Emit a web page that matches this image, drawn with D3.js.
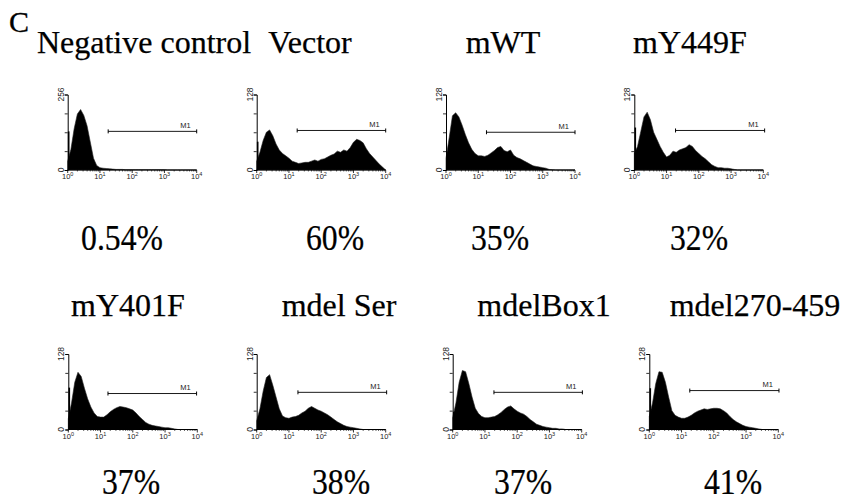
<!DOCTYPE html>
<html>
<head>
<meta charset="utf-8">
<script src="https://cdn.jsdelivr.net/npm/d3@7"></script>
<style>
  body { margin: 0; background: #fff; }
  svg { display: block; }
</style>
</head>
<body>
<svg id="fig" width="843" height="502"></svg>
<script>
// panel names and the % of cells inside gate M1
var titles = ["Negative control", "Vector", "mWT", "mY449F",
              "mY401F", "mdel Ser", "mdelBox1", "mdel270-459"];
var percents = ["0.54%", "60%", "35%", "32%", "37%", "38%", "37%", "41%"];

// full scale of the count axis
var yMax = [256, 128, 128, 128, 128, 128, 128, 128];

// first-channel pile-up (counts)
var spikes = [131, 48, 0, 72, 71, 0, 30, 70];

// gate M1: start / end (fluorescence) and drawn height (counts)
var m1Lo = [18, 18, 18, 19, 17, 19, 19, 18];
var m1Hi = [10000, 10000, 10000, 11000, 9500, 10700, 10500, 10500];
var m1Level = [131, 67, 64, 67, 61, 63, 63, 66];

// histogram counts, one value every 0.1 decade from 10^0 to 10^4
var counts = [
  [30, 70, 140, 190, 205, 185, 150, 95, 40, 15, 8, 6, 5, 4, 3, 2, 2, 2, 1, 1, 1,
   1, 1, 1, 1, 1, 1, 1, 1, 1, 1, 0, 0, 0, 0, 0, 0, 0, 0, 0, 0],
  [15, 30, 50, 64, 68, 58, 44, 34, 28, 24, 20, 15, 13, 11, 12, 13, 13, 15, 17, 15, 18,
   19, 22, 25, 27, 32, 30, 34, 32, 38, 47, 52, 50, 46, 36, 28, 22, 16, 10, 5, 0],
  [20, 55, 92, 97, 90, 76, 60, 46, 35, 28, 24, 24, 23, 25, 29, 33, 38, 40, 33, 31, 34,
   25, 21, 19, 16, 13, 10, 7, 6, 5, 4, 3, 1, 0.5, 0, 0, 0, 0, 0, 0, 0],
  [28, 40, 65, 90, 98, 85, 64, 52, 40, 30, 22, 25, 32, 30, 34, 36, 38, 43, 40, 33, 28,
   23, 19, 14, 9, 6, 4, 4, 3, 3, 2, 1, 0, 0, 0, 0, 0, 0, 0, 0, 0],
  [18, 45, 80, 97, 90, 70, 52, 38, 28, 22, 21, 21, 25, 30, 34, 37, 39, 38, 37, 35, 33,
   28, 22, 17, 12, 9, 7, 6, 5, 4, 3, 3, 2, 1, 0, 0, 0, 0, 0, 0, 0],
  [15, 35, 65, 88, 93, 75, 55, 35, 23, 20, 19, 21, 22, 24, 28, 31, 36, 39, 36, 33, 31,
   28, 25, 21, 17, 13, 10, 7, 5, 4, 3, 2, 1, 0, 0, 0, 0, 0, 0, 0, 0],
  [20, 45, 80, 100, 98, 78, 55, 36, 27, 22, 20, 20, 21, 22, 25, 29, 34, 38, 40, 35, 31,
   28, 26, 22, 17, 13, 9, 7, 5, 4, 3, 2, 2, 1, 1, 0, 0, 0, 0, 0, 0],
  [22, 45, 78, 98, 97, 80, 55, 32, 24, 21, 19, 19, 21, 24, 28, 31, 33, 35, 34, 35, 36,
   36, 35, 32, 28, 22, 17, 13, 10, 7, 5, 4, 3, 2, 1, 0, 0, 0, 0, 0, 0]
];

// page layout: where each panel sits
var plotW = 129, plotH = 75.5;
var panels = [
  { x: 67.7, base: 170, tx: 144, ty: 53, px: 122, py: 250 },
  { x: 256.7, base: 170, tx: 310, ty: 53, px: 335, py: 250 },
  { x: 446, base: 170, tx: 503, ty: 53, px: 500, py: 250 },
  { x: 634.3, base: 170, tx: 690, ty: 53, px: 699, py: 250 },
  { x: 68.3, base: 429.5, tx: 128, ty: 316, px: 131, py: 494 },
  { x: 256.7, base: 429.5, tx: 339, ty: 316, px: 341, py: 494 },
  { x: 452.7, base: 429.5, tx: 544, ty: 316, px: 523, py: 494 },
  { x: 649.3, base: 429.5, tx: 755, ty: 316, px: 733, py: 494 }
];

var svg = d3.select("#fig");
var serif = "'Liberation Serif', 'Times New Roman', serif";
var sans = "'Liberation Sans', Arial, sans-serif";

// panel letter
svg.append("text")
  .attr("x", 9).attr("y", 32)
  .attr("font-family", serif).attr("font-size", 30)
  .attr("stroke", "#000").attr("stroke-width", 0.3)
  .text("C");

panels.forEach(function(p, i) {
  var g = svg.append("g");

  var x = d3.scaleLog().domain([1, 10000]).range([p.x, p.x + plotW]);
  var y = d3.scaleLinear().domain([0, yMax[i]]).range([p.base, p.base - plotH]);

  var pts = counts[i].map(function(c, k) { return { v: Math.pow(10, k / 10), c: c }; });

  // filled histogram
  var area = d3.area()
    .x(function(d) { return x(d.v); })
    .y0(y(0))
    .y1(function(d) { return y(d.c); });
  g.append("path")
    .datum(pts)
    .attr("d", area)
    .attr("fill", "#000")
    .attr("stroke", "#222")
    .attr("stroke-width", 0.6);

  // first-channel spike
  if (spikes[i] > 0) {
    g.append("line")
      .attr("x1", x(1) + 1).attr("x2", x(1) + 1)
      .attr("y1", y(0)).attr("y2", y(spikes[i]))
      .attr("stroke", "#000").attr("stroke-width", 1.6);
  }

  // count axis
  var yAxis = d3.axisLeft(y)
    .tickValues([0, yMax[i] / 4, yMax[i] / 2, yMax[i] * 3 / 4, yMax[i]])
    .tickSize(3)
    .tickFormat("");
  var ya = g.append("g").attr("transform", "translate(" + p.x + ",0)").call(yAxis);
  ya.select(".domain").attr("stroke-width", 1);
  ya.selectAll("line").attr("stroke-width", 0.8);

  [0, yMax[i]].forEach(function(v) {
    g.append("text")
      .attr("transform", "translate(" + (p.x - 4) + "," + y(v) + ") rotate(-90)")
      .attr("text-anchor", "middle")
      .attr("font-family", sans).attr("font-size", 8.5)
      .attr("fill", "#222")
      .text(v);
  });

  // fluorescence axis with log minor ticks
  var minors = [];
  for (var dcd = 0; dcd < 4; dcd++) {
    for (var m = 2; m < 10; m++) minors.push(m * Math.pow(10, dcd));
  }
  g.append("line")
    .attr("x1", x(1)).attr("x2", x(10000))
    .attr("y1", p.base).attr("y2", p.base)
    .attr("stroke", "#000").attr("stroke-width", 1);
  g.selectAll(".minor").data(minors).enter().append("line")
    .attr("x1", function(d) { return x(d); }).attr("x2", function(d) { return x(d); })
    .attr("y1", p.base).attr("y2", p.base + 1.5)
    .attr("stroke", "#000").attr("stroke-width", 0.6);
  var majors = [1, 10, 100, 1000, 10000];
  g.selectAll(".major").data(majors).enter().append("line")
    .attr("x1", function(d) { return x(d); }).attr("x2", function(d) { return x(d); })
    .attr("y1", p.base).attr("y2", p.base + 3)
    .attr("stroke", "#000").attr("stroke-width", 0.8);
  var lab = g.selectAll(".xlab").data(majors).enter().append("text")
    .attr("x", function(d) { return x(d); })
    .attr("y", p.base + 9)
    .attr("text-anchor", "middle")
    .attr("font-family", sans).attr("font-size", 7.5)
    .attr("fill", "#222");
  lab.append("tspan").text("10");
  lab.append("tspan")
    .attr("dy", -2.8).attr("font-size", 5.5)
    .text(function(d) { return Math.round(Math.log10(d)); });

  // gate M1
  var gy = y(m1Level[i]);
  g.append("line")
    .attr("x1", x(m1Lo[i])).attr("x2", x(m1Hi[i]))
    .attr("y1", gy).attr("y2", gy)
    .attr("stroke", "#000").attr("stroke-width", 0.9);
  [m1Lo[i], m1Hi[i]].forEach(function(v) {
    g.append("line")
      .attr("x1", x(v)).attr("x2", x(v))
      .attr("y1", gy - 2).attr("y2", gy + 2)
      .attr("stroke", "#000").attr("stroke-width", 1);
  });
  g.append("text")
    .attr("x", x(m1Hi[i]) - 6).attr("y", gy - 3.5)
    .attr("text-anchor", "end")
    .attr("font-family", sans).attr("font-size", 7.5)
    .attr("fill", "#222")
    .text("M1");

  // title and percentage
  svg.append("text")
    .attr("x", p.tx).attr("y", p.ty)
    .attr("text-anchor", "middle")
    .attr("font-family", serif).attr("font-size", 32)
    .attr("stroke", "#000").attr("stroke-width", 0.25)
    .text(titles[i]);
  svg.append("text")
    .attr("transform", "translate(" + p.px + "," + p.py + ") scale(0.88,1)")
    .attr("text-anchor", "middle")
    .attr("font-family", serif).attr("font-size", 36)
    .attr("stroke", "#000").attr("stroke-width", 0.25)
    .text(percents[i]);
});
</script>
</body>
</html>
